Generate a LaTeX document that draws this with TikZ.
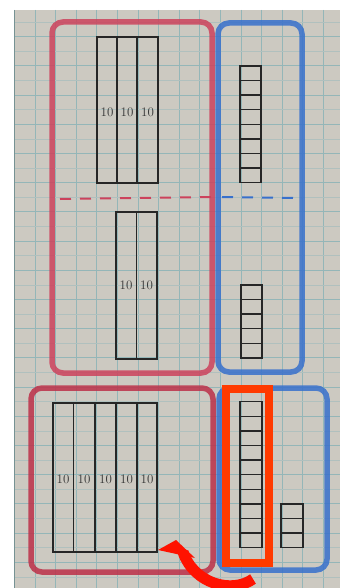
\documentclass[tikz,border=0pt]{standalone}
\usetikzlibrary{calc}
\definecolor{paper}{RGB}{204,201,193}
\definecolor{gridc}{RGB}{148,182,184}
\definecolor{gridf}{RGB}{176,192,190}
\definecolor{pred}{RGB}{204,66,92}
\definecolor{pred2}{RGB}{188,48,72}
\definecolor{pblue}{RGB}{55,112,204}
\definecolor{hlorange}{RGB}{255,58,0}
\definecolor{arrred}{RGB}{255,18,0}
\tikzset{
  redbox/.style={draw=pred,line width=5.5pt,rounded corners=11pt,opacity=.85},
  bluebox/.style={draw=pblue,line width=5.5pt,rounded corners=11pt,opacity=.85},
  rod/.style={draw=black!85,line width=1.3pt},
  tenlabel/.style={font=\fontsize{13}{13}\selectfont,text=black!80,inner sep=0pt},
  divider/.style={line width=2pt,dash pattern=on 11pt off 9pt}
}
\begin{document}
\begin{tikzpicture}[x=1pt,y=-1pt]
\useasboundingbox (0,0) rectangle (340,588);
\fill[white] (0,0) rectangle (340,588);
% photographed paper
\fill[paper] (14,10) rectangle (340,588);
\begin{scope}
\clip (14,10) rectangle (340,588);
\foreach \i in {0,...,15} {
  \draw[gridc,line width=0.9pt] ({35+20.6*\i},10) -- ({35+20.6*\i},588);
}
\foreach \j in {0,...,39} {
  \pgfmathparse{int(mod(\j,2))}
  \ifnum\pgfmathresult=1
    \draw[gridc,line width=0.9pt] (14,{22.1+14.6*\j}) -- (340,{22.1+14.6*\j});
  \else
    \draw[gridf,line width=0.6pt] (14,{22.1+14.6*\j}) -- (340,{22.1+14.6*\j});
  \fi
}
\end{scope}
\draw[gridc!80!black,line width=1pt] (14.5,10) -- (14.5,588);

% ---------- top part ----------
\draw[redbox] (52,22) rectangle (212,373);
\draw[bluebox] (218,23) rectangle (302,372);
\draw[divider,pred] (60,199) -- (211,197);
\draw[divider,pblue] (222,197) -- (302,198);

% three tens rods (upper)
\draw[rod] (97,37) rectangle (158,183);
\draw[rod] (117,37) -- (117,183);
\draw[rod] (137,37) -- (137,183);
\node[tenlabel] (t1) at (107,112) {10};
\node[tenlabel] (t2) at (127,112) {10};
\node[tenlabel] (t3) at (147.5,112) {10};

% eight units (upper)
\draw[rod] (240,{22.1+14.6*3}) rectangle (261,{22.1+14.6*11});
\foreach \k in {4,...,10} \draw[rod] (240,{22.1+14.6*\k}) -- (261,{22.1+14.6*\k});

% two tens rods (lower half of top)
\draw[rod] (116,212) rectangle (157,359);
\draw[rod] (136.5,212) -- (136.5,359);
\node[tenlabel] (t4) at (126,285) {10};
\node[tenlabel] (t5) at (146.5,285) {10};

% five units
\draw[rod] (241,{22.1+14.6*18}) rectangle (262,{22.1+14.6*23});
\foreach \k in {19,...,22} \draw[rod] (241,{22.1+14.6*\k}) -- (262,{22.1+14.6*\k});

% ---------- bottom part ----------
\draw[redbox,draw=pred2] (31,388) rectangle (213,572);
\draw[bluebox] (219,388) rectangle (327,570);

% five tens rods
\draw[rod] (53,403) rectangle (157,552);
\foreach \x in {73.5,95,116,137} \draw[rod] (\x,403) -- (\x,552);
\node[tenlabel] (b1) at (63,479) {10};
\node[tenlabel] (b2) at (84,479) {10};
\node[tenlabel] (b3) at (105.5,479) {10};
\node[tenlabel] (b4) at (126.5,479) {10};
\node[tenlabel] (b5) at (147,479) {10};

% ten units
\draw[rod] (240,{22.1+14.6*26}) rectangle (262,{22.1+14.6*36});
\foreach \k in {27,...,35} \draw[rod] (240,{22.1+14.6*\k}) -- (262,{22.1+14.6*\k});

% three units
\draw[rod] (281,{22.1+14.6*33}) rectangle (303,{22.1+14.6*36});
\foreach \k in {34,35} \draw[rod] (281,{22.1+14.6*\k}) -- (303,{22.1+14.6*\k});

% highlight rectangle
\draw[hlorange,line width=8pt] (226,389) rectangle (269,563);

% curved arrow
\draw[arrred,line width=11pt] (183,552) .. controls (194,584) and (232,594) .. (253,579);
\fill[arrred] (158,550) -- (176,540) -- (195,558) -- cycle;
\end{tikzpicture}
\end{document}
